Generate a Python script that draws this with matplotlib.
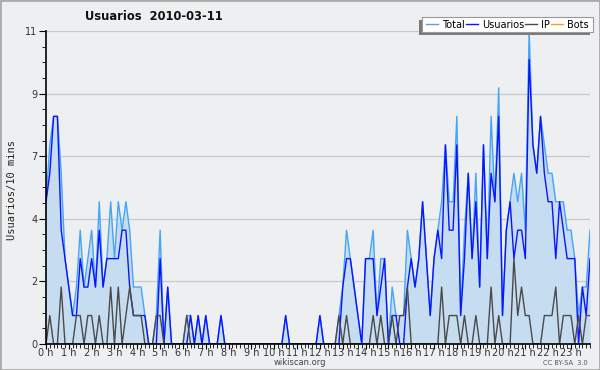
import matplotlib
matplotlib.use("Agg")
import matplotlib.pyplot as plt
from matplotlib.patches import Rectangle
from matplotlib.ticker import FixedLocator, MultipleLocator

# Usuarios per 10-minute slot, 144 slots (00:00 .. 23:50)
usuarios = [5, 6, 8, 8, 4, 3, 2, 1, 1, 3, 2, 2, 3, 2, 4, 2, 3, 3, 3, 3,
            4, 4, 2, 1, 1, 1, 1, 0, 0, 0, 3, 0, 2, 0, 0, 0, 0, 0, 1, 0,
            1, 0, 1, 0, 0, 0, 1, 0, 0, 0, 0, 0, 0, 0, 0, 0, 0, 0, 0, 0,
            0, 0, 0, 1, 0, 0, 0, 0, 0, 0, 0, 0, 1, 0, 0, 0, 0, 0, 2, 3,
            3, 2, 1, 0, 3, 3, 3, 1, 2, 3, 0, 1, 1, 0, 0, 2, 3, 2, 3, 5,
            3, 1, 3, 4, 3, 7, 4, 4, 7, 1, 3, 6, 3, 5, 2, 7, 3, 6, 5, 8,
            1, 4, 5, 3, 4, 4, 3, 10, 7, 6, 8, 6, 5, 5, 3, 5, 4, 3, 3, 3,
            0, 2, 1, 3]
ip = [0, 1, 0, 0, 2, 0, 0, 0, 1, 1, 0, 1, 1, 0, 1, 0, 0, 2, 0, 2,
      0, 1, 2, 1, 1, 1, 0, 0, 0, 1, 1, 0, 0, 0, 0, 0, 0, 1, 0, 0,
      0, 0, 0, 0, 0, 0, 0, 0, 0, 0, 0, 0, 0, 0, 0, 0, 0, 0, 0, 0,
      0, 0, 0, 0, 0, 0, 0, 0, 0, 0, 0, 0, 0, 0, 0, 0, 0, 1, 0, 1,
      0, 0, 0, 0, 0, 0, 1, 0, 1, 0, 0, 1, 0, 1, 1, 2, 0, 0, 0, 0,
      0, 0, 0, 0, 2, 0, 1, 1, 1, 0, 1, 0, 0, 1, 0, 0, 0, 2, 0, 1,
      0, 0, 0, 3, 1, 2, 1, 1, 0, 0, 0, 1, 1, 1, 2, 0, 1, 1, 1, 0,
      1, 0, 1, 1]
total = [5, 7, 8, 8, 6, 3, 2, 1, 2, 4, 2, 3, 4, 2, 5, 2, 3, 5, 3, 5,
         4, 5, 4, 2, 2, 2, 1, 0, 0, 1, 4, 0, 2, 0, 0, 0, 0, 1, 1, 0,
         1, 0, 1, 0, 0, 0, 1, 0, 0, 0, 0, 0, 0, 0, 0, 0, 0, 0, 0, 0,
         0, 0, 0, 1, 0, 0, 0, 0, 0, 0, 0, 0, 1, 0, 0, 0, 0, 1, 2, 4,
         3, 2, 1, 0, 3, 3, 4, 1, 3, 3, 0, 2, 1, 1, 1, 4, 3, 2, 3, 5,
         3, 1, 3, 4, 5, 7, 5, 5, 8, 1, 4, 6, 3, 6, 2, 7, 3, 8, 5, 9,
         1, 4, 5, 6, 5, 6, 4, 11, 7, 6, 8, 7, 6, 6, 5, 5, 5, 4, 4, 3,
         1, 2, 2, 4]
bots = [0] * 144
slots = list(range(144))
hour_labels = [f"{h} h" for h in range(24)]

BG = "#eeeff1"
C_TOTAL = "#45a5f7"
C_FILL = "#c6dcf0"
C_USER = "#0a14ff"
C_IP = "#4a4a4a"
C_BOTS = "#ff9a1a"

W, H = 600, 370


def fx(px):
    return px / W


def fy(py):
    return 1 - py / H


fig = plt.figure(figsize=(6, 3.7), dpi=100, facecolor=BG)
ax = fig.add_axes([fx(46), 26 / H, 544 / W, 313 / H], facecolor=BG)

ax.fill_between(slots, total, 0, color=C_FILL, linewidth=0, zorder=1)
ax.plot(slots, bots, color=C_BOTS, lw=1.0, zorder=2, label="Bots")
ax.plot(slots, total, color=C_TOTAL, lw=1.0, zorder=3, label="Total")
ax.plot(slots, usuarios, color=C_USER, lw=1.0, zorder=4, label="Usuarios")
ax.plot(slots, ip, color=C_IP, lw=1.0, zorder=5, label="IP")

ax.set_xlim(0, 143)
ax.set_ylim(0, 11)

yt = [0, 2.2, 4.4, 6.6, 8.8, 11]
ax.yaxis.set_major_locator(FixedLocator(yt))
ax.set_yticklabels(["0", "2", "4", "7", "9", "11"])
ax.yaxis.set_minor_locator(MultipleLocator(0.55))
ax.xaxis.set_major_locator(FixedLocator([h * 6 for h in range(24)]))
ax.set_xticklabels(hour_labels)
ax.xaxis.set_minor_locator(MultipleLocator(1))

ax.tick_params(axis="both", which="both", direction="out", color="black",
               labelsize=7, labelcolor="#333333")
ax.tick_params(axis="y", which="major", length=5, pad=1)
ax.tick_params(axis="y", which="minor", length=3)
ax.tick_params(axis="x", which="major", length=3.5, pad=-0.5)
ax.tick_params(axis="x", which="minor", length=3)

ax.grid(axis="y", which="major", color="#c8c8c8", lw=0.9, zorder=0)
ax.set_axisbelow(True)
for side in ("top", "right"):
    ax.spines[side].set_visible(False)
for side in ("left", "bottom"):
    ax.spines[side].set_color("black")
    ax.spines[side].set_linewidth(1.2)
    ax.spines[side].set_zorder(6)

fig.text(fx(85), fy(17), "Usuarios  2010-03-11", fontsize=8.3,
         fontweight="bold", va="center", ha="left", color="#111111")
fig.text(fx(12), fy(190), "Usuarios/10 mins", rotation=90,
         family="DejaVu Sans Mono", fontsize=7.5, va="center", ha="center",
         color="#222222")
fig.text(fx(300), fy(362.5), "wikiscan.org", fontsize=6,
         ha="center", va="center", color="#444444")
fig.text(fx(588), fy(363), "CC BY-SA  3.0", fontsize=4.8,
         ha="right", va="center", color="#555555")

# legend box with a shadow to the lower left, as in the source chart
box_l, box_r, box_t, box_b = 422, 593, 17, 32
fig.patches.append(Rectangle((fx(box_l - 3), fy(box_b + 3)),
                             (box_r - box_l) / W, (box_b - box_t) / H,
                             transform=fig.transFigure, facecolor="#7a7a7a",
                             edgecolor="none", zorder=8))
fig.patches.append(Rectangle((fx(box_l), fy(box_b)),
                             (box_r - box_l) / W, (box_b - box_t) / H,
                             transform=fig.transFigure, facecolor="white",
                             edgecolor="#999999", lw=0.8, zorder=9))

handles, labels = ax.get_legend_handles_labels()
order = [labels.index(n) for n in ("Total", "Usuarios", "IP", "Bots")]
leg = fig.legend([handles[k] for k in order], [labels[k] for k in order],
                 loc="center", bbox_to_anchor=(fx((box_l + box_r) / 2),
                                               fy((box_t + box_b) / 2)),
                 ncol=4, fontsize=7, frameon=False,
                 handlelength=1.2, handletextpad=0.4, columnspacing=0.15,
                 borderpad=0, borderaxespad=0)
leg.set_zorder(10)

fig.patches.append(Rectangle((0, 0), 1, 1, transform=fig.transFigure,
                             fill=False, edgecolor="#aaaaaa", lw=2, zorder=20))

fig.savefig("out.png", dpi=100, facecolor=BG)
